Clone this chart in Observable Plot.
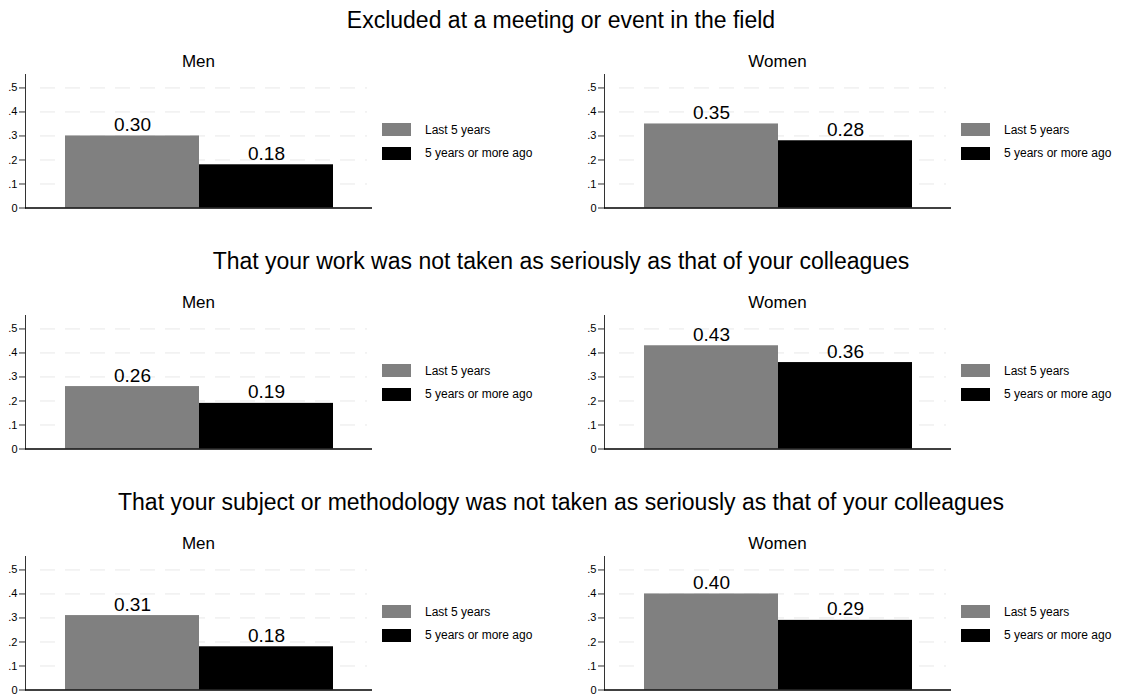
<!DOCTYPE html>
<html>
<head>
<meta charset="utf-8">
<script src="https://cdn.jsdelivr.net/npm/d3@7"></script>
<script src="https://cdn.jsdelivr.net/npm/@observablehq/plot@0.6"></script>
<style>
  html, body { margin: 0; padding: 0; background: #fff; }
  #root { position: relative; width: 1122px; height: 695px; overflow: hidden; font-family: "Liberation Sans", Arial, sans-serif; color: #000; }
  .abs { position: absolute; white-space: nowrap; }
  .title { font-size: 23px; line-height: 23px; left: 0; width: 1122px; text-align: center; }
  .sub { font-size: 17px; line-height: 17px; width: 200px; text-align: center; }
  .sw { width: 29px; height: 13px; }
  .lt { font-size: 12px; line-height: 12px; }
  svg { display: block; }
</style>
</head>
<body>
<div id="root"></div>
<script>
// ---- data ----
const questions = [
  "Excluded at a meeting or event in the field",
  "That your work was not taken as seriously as that of your colleagues",
  "That your subject or methodology was not taken as seriously as that of your colleagues"
];
const groups = ["Men", "Women"];
const periods = ["Last 5 years", "5 years or more ago"];
const periodColors = ["#808080", "#000000"];
// values per question: [Men, Women]
const recent  = [[0.30, 0.35], [0.26, 0.43], [0.31, 0.40]];
const earlier = [[0.18, 0.28], [0.19, 0.36], [0.18, 0.29]];
const yTicks = [0, 0.1, 0.2, 0.3, 0.4, 0.5];
const yMax = 0.556;

// ---- layout ----
const root = document.getElementById("root");
const rowStep = 241;
const panelLeft = [0, 579];
const fmtTick = d => d === 0 ? "0" : d3.format(".1f")(d).replace(/^0/, "");

function addDiv(cls, text, left, top, extra) {
  const el = document.createElement("div");
  el.className = "abs " + cls;
  if (text != null) el.textContent = text;
  if (left != null) el.style.left = left + "px";
  el.style.top = top + "px";
  if (extra) Object.assign(el.style, extra);
  root.appendChild(el);
  return el;
}

questions.forEach((q, r) => {
  const off = r * rowStep;
  addDiv("title", q, null, 9 + off);
  groups.forEach((g, p) => {
    const x0 = panelLeft[p];
    const data = periods.map((per, k) => ({
      period: per,
      value: (k === 0 ? recent : earlier)[r][p]
    }));
    const chart = Plot.plot({
      width: 372,
      height: 146,
      marginLeft: 25,
      marginRight: 0,
      marginTop: 5,
      marginBottom: 7.5,
      style: {fontFamily: "'Liberation Sans', Arial, sans-serif", background: "transparent", color: "#000"},
      x: {type: "band", domain: periods, paddingInner: 0, paddingOuter: 0.292, axis: null},
      y: {domain: [0, yMax], axis: null},
      color: {domain: periods, range: periodColors},
      marks: [
        Plot.ruleY(yTicks.filter(d => d > 0), {stroke: "#e8e8e8", strokeDasharray: "15,10", insetLeft: 15, insetRight: 5}),
        Plot.barY(data, {x: "period", y: "value", fill: "period"}),
        Plot.text(data, {x: "period", y: "value", text: d => d3.format(".2f")(d.value), lineAnchor: "bottom", dy: -5, fontSize: 19, fill: "#000"}),
        Plot.axisY({ticks: yTicks, tickFormat: fmtTick, tickSize: 6, tickPadding: 2, fontSize: 11, label: null, stroke: "#333"}),
        Plot.frame({anchor: "left", stroke: "#333"}),
        Plot.ruleY([0], {stroke: "#000", strokeWidth: 1.5})
      ]
    });
    chart.style.position = "absolute";
    chart.style.left = x0 + "px";
    chart.style.top = (69 + off) + "px";
    root.appendChild(chart);

    // subtitle
    const center = x0 + 25 + 347 / 2;
    addDiv("sub", g, center - 100, 52.6 + off);

    // legend
    const lx = x0 + 382;
    const swTop = [123, 146.5];
    const txtTop = [123.8, 147.3];
    periods.forEach((per, k) => {
      addDiv("sw", null, lx, swTop[k] + off, {background: periodColors[k]});
      addDiv("lt", per, lx + 43, txtTop[k] + off);
    });
  });
});
</script>
</body>
</html>
